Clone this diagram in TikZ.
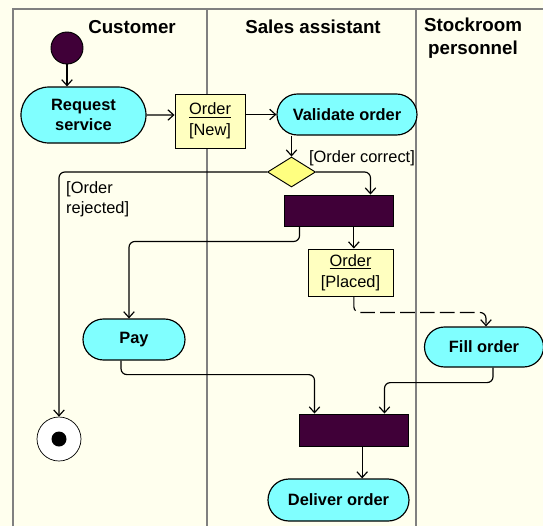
\documentclass[tikz,border=0pt]{standalone}
\usepackage{fontspec}
\setmainfont{Liberation Sans}
\usetikzlibrary{shapes,arrows.meta,positioning,calc}

\definecolor{paper}{RGB}{255,255,238}
\definecolor{actfill}{RGB}{128,255,255}
\definecolor{objfill}{RGB}{255,255,192}
\definecolor{decfill}{RGB}{255,255,128}
\definecolor{barfill}{RGB}{64,0,56}
\definecolor{laneline}{RGB}{128,128,128}

\begin{document}
\begin{tikzpicture}[
    x=0.03cm, y=-0.03cm,
    activity/.style={rounded rectangle, draw=black, line width=1pt, fill=actfill, font=\fontsize{14}{17}\selectfont\bfseries, align=center, inner sep=0pt},
    objbox/.style={rectangle, draw=black, line width=0.8pt, fill=objfill, font=\fontsize{14}{17.5}\selectfont, align=center, inner sep=0pt},
    syncbar/.style={rectangle, draw=black, line width=0.8pt, fill=barfill, minimum width=3.27cm, minimum height=0.93cm},
    decision/.style={diamond, draw=black, line width=0.8pt, fill=decfill, minimum width=1.44cm, minimum height=0.9cm, inner sep=0pt},
    guard/.style={font=\fontsize{14}{17}\selectfont, inner sep=0pt},
    lanetitle/.style={font=\fontsize{16}{19.6}\selectfont\bfseries, align=center},
    lane/.style={draw=laneline, line width=1.2pt},
    arrow/.style={-{Straight Barb[length=5pt,width=9pt]}, line width=1pt},
    flow/.style={arrow, rounded corners=5pt}
]

% Swimlanes
\useasboundingbox (0,0) rectangle (543,526);
\fill[paper] (0,0) rectangle (543,526);
\draw[lane] (13,526) -- (13,9) -- (543,9);
\draw[lane] (207,9) -- (207,526);
\draw[lane] (416,9) -- (416,526);

\node[lanetitle] (custtitle) at (132,27) {Customer};
\node[lanetitle] (salestitle) at (313,27) {Sales assistant};
\node[lanetitle] (stocktitle) at (473,38) {Stockroom\\personnel};

% Activities and objects
\node[circle, draw=black, line width=0.8pt, fill=barfill, minimum size=0.96cm] (start) at (67,48) {};
\node[activity, minimum width=3.75cm, minimum height=1.68cm] (request) at (83.5,115) {Request\\service};
\node[objbox, minimum width=2.1cm, minimum height=1.62cm] (ordernew) at (210,121) {\underline{Order}\\{}[New]};
\draw[arrow] (start) -- (start |- request.north);
\draw[arrow] (request) -- (request -| ordernew.west);
\node[activity, minimum width=4.2cm, minimum height=1.23cm] (validate) at (347,114.5) {Validate order};
\draw[arrow] (ordernew.east |- validate) -- (validate.west);
\node[decision] (check) at (291.5,172) {};
\draw[arrow] (validate.south -| check.north) -- (check.north);
\node[guard] (correct) at (362,158) {[Order correct]};
\node[guard, anchor=north west, align=left] (rejected) at (66,181) {[Order\\rejected]};
\node[syncbar] (fork) at (338.5,210.5) {};
\draw[flow] (check.east) -| ([xshift=-0.69cm]fork.north east);
\node[circle, draw=black, line width=0.6pt, fill=white, minimum size=1.32cm,
      path picture={\fill[black] (path picture bounding box.center) circle (0.225cm);}] (final) at (59,439) {};
\draw[flow] (check.west) -| (final.north);
\node[objbox, minimum width=2.55cm, minimum height=1.41cm] (orderplaced) at (350.5,272.5) {\underline{Order}\\{}[Placed]};
\draw[arrow] ([xshift=0.1cm]orderplaced.north |- fork.south) -- ([xshift=0.1cm]orderplaced.north);
\node[activity, minimum width=3.06cm, minimum height=1.23cm] (pay) at (134,339.5) {Pay};
\draw[flow] ([xshift=0.48cm]fork.south west) -- ++(0,15) -| ([xshift=-0.15cm]pay.north);
\node[activity, minimum width=3.57cm, minimum height=1.2cm] (fillorder) at (484,347) {Fill order};
\draw[flow, dash pattern=on 12.5pt off 4.5pt] ([xshift=0.1cm]orderplaced.south) -- ++(0,16) -| ([xshift=0.06cm]fillorder.north);
\node[syncbar, minimum height=0.96cm] (join) at (353.5,430) {};
\draw[flow] ([xshift=-0.39cm]pay.south) -- ++(0,14) -| ([xshift=0.48cm]join.north west);
\draw[flow] ([xshift=0.27cm]fillorder.south) -- ++(0,15) -| ([xshift=-0.72cm]join.north east);
\node[activity, minimum width=4.23cm, minimum height=1.26cm] (deliver) at (338.5,500) {Deliver order};
\draw[arrow] ([xshift=0.26cm]join.south) -- ([xshift=0.26cm]join.south |- deliver.north);

\end{tikzpicture}
\end{document}
